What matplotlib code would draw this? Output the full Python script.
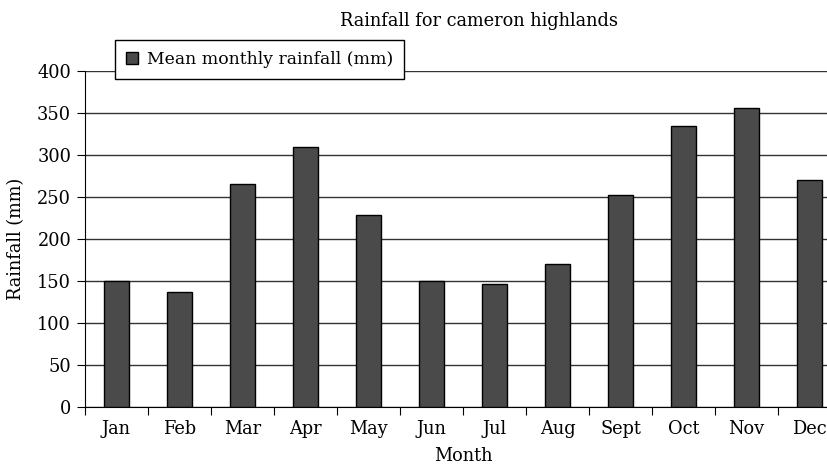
import matplotlib
matplotlib.use("Agg")
import matplotlib.pyplot as plt
import numpy as np

months = ["Jan", "Feb", "Mar", "Apr", "May", "Jun", "Jul", "Aug", "Sept", "Oct", "Nov", "Dec"]
rainfall = [150, 137, 265, 310, 228, 150, 147, 170, 252, 334, 356, 270]
yticks = [0, 50, 100, 150, 200, 250, 300, 350, 400]

plt.rcParams['font.family'] = ['DejaVu Serif']
FS = 12.8

fig = plt.figure(figsize=(8.28, 4.70), dpi=100)
ax = fig.add_axes([85/828, 1-407/470, 756/828, 336/470])

x = np.arange(len(months))
ax.bar(x, rainfall, width=0.41, color="#4a4a4a", edgecolor="black", linewidth=1.0,
       label="Mean monthly rainfall (mm)", zorder=3)

ax.set_xlim(-0.5, len(months) - 0.5)
ax.set_ylim(0, 400)
ax.set_yticks(yticks)
ax.set_yticklabels([str(v) for v in yticks], fontsize=FS)
ax.yaxis.grid(True, color="#333333", linewidth=1.0, zorder=0)

ax.set_xticks(np.arange(-0.5, len(months), 1.0))
ax.set_xticklabels([])
ax.set_xticks(x, minor=True)
ax.set_xticklabels(months, minor=True, fontsize=FS)
ax.tick_params(axis="x", which="major", direction="out", length=6, color="black")
ax.tick_params(axis="x", which="minor", length=0, pad=9)
ax.tick_params(axis="y", direction="out", length=6, color="black", pad=4)

for s in ["top", "right"]:
    ax.spines[s].set_visible(False)
ax.spines["left"].set_color("black")
ax.spines["bottom"].set_color("black")

ax.set_ylabel("Rainfall (mm)", fontsize=FS, labelpad=9)
ax.set_xlabel("Month", fontsize=FS, labelpad=7)

fig.text(0.578, 0.955, "Rainfall for cameron highlands", ha="center", va="center", fontsize=FS)

leg = ax.legend(loc="upper left", bbox_to_anchor=(115/828, 1-40/470), bbox_transform=fig.transFigure,
                frameon=True, fancybox=False, fontsize=12.4, handlelength=0.7, handleheight=0.7,
                handletextpad=0.5, borderpad=0.65, borderaxespad=0)
leg.get_frame().set_edgecolor("black")
leg.get_frame().set_linewidth(1.0)
leg.get_frame().set_alpha(1)

fig.savefig("out.png", dpi=100)
